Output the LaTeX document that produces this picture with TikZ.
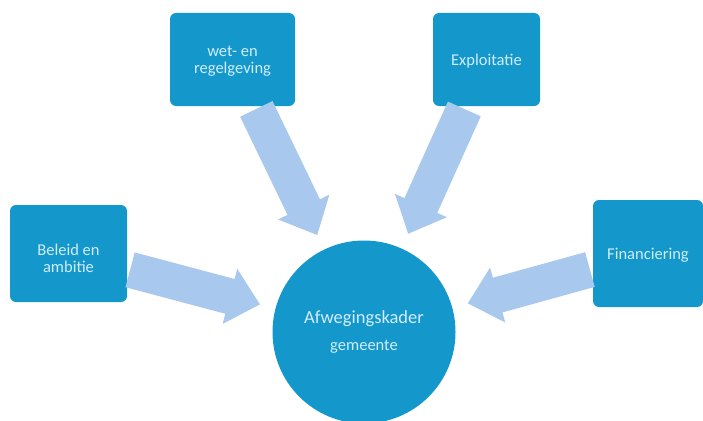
\documentclass[tikz,border=0pt]{standalone}
\usepackage{fontspec}
\setmainfont{Carlito}
\usetikzlibrary{calc}
\definecolor{boxblue}{RGB}{20,152,204}
\definecolor{arrowblue}{RGB}{168,200,238}
\definecolor{txtcol}{RGB}{210,236,250}
\newcommand\blockarrow[1]{%
  \path (#1) -- (c) coordinate[pos=0] (#1a) coordinate[pos=1] (#1b);
  \coordinate (#1S) at ($(#1a)!3pt!(#1b)$);
  \coordinate (#1T) at ($(#1b)!16pt!(#1a)$);
  \coordinate (#1B) at ($(#1T)!31pt!(#1S)$);
  \fill[arrowblue] ($(#1S)!18pt!90:(#1T)$) -- ($(#1B)!18pt!90:(#1T)$) -- ($(#1B)!28.5pt!90:(#1T)$)
    -- (#1T) -- ($(#1B)!28.5pt!-90:(#1T)$) -- ($(#1B)!18pt!-90:(#1T)$) -- ($(#1S)!18pt!-90:(#1T)$) -- cycle;
}
\begin{document}
\begin{tikzpicture}[x=1pt,y=-1pt,
  box/.style={fill=boxblue, rounded corners=6pt, inner sep=0pt},
  boxtext/.style={text=txtcol, align=center, font=\fontsize{16.5}{17}\selectfont, inner sep=0pt},
  hub/.style={circle, fill=boxblue, minimum size=183pt, inner sep=0pt}]
\useasboundingbox (0,0) rectangle (703,420);
\node[box, minimum width=117pt, minimum height=97pt] (b1) at (68.5,253.5) {};
\node[boxtext] (t1) at (68.5,258) {Beleid en\\ambitie};
\node[box, minimum width=125pt, minimum height=93pt] (b2) at (232.5,59.5) {};
\node[boxtext] (t2) at (232.5,61.5) {wet- en\\regelgeving};
\node[box, minimum width=107pt, minimum height=93pt] (b3) at (486.5,59.5) {};
\node[boxtext] (t3) at (486.5,61) {Exploitatie};
\node[box, minimum width=110pt, minimum height=107pt] (b4) at (648,253.5) {};
\node[boxtext] (t4) at (648,255) {Financiering};
\node[hub] (c) at (364,332) {};
\node[boxtext, font=\fontsize{18.5}{20}\selectfont] (c1) at (364,319) {Afwegingskader};
\node[boxtext, font=\fontsize{16.5}{18}\selectfont] (c2) at (364,347) {gemeente};
\blockarrow{b1}
\blockarrow{b2}
\blockarrow{b3}
\blockarrow{b4}
\end{tikzpicture}
\end{document}
